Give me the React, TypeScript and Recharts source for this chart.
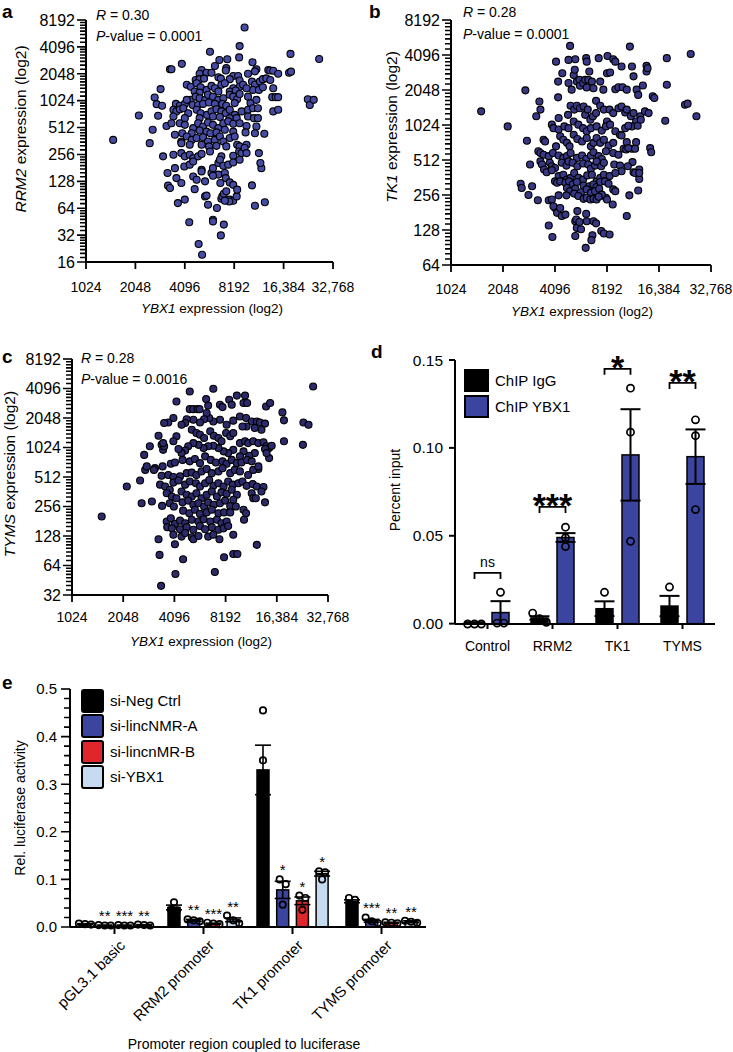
import React from 'react';
import { ScatterChart, Scatter, XAxis, YAxis, BarChart, Bar, ErrorBar } from 'recharts';

const FONT = '"Liberation Sans", Arial, Helvetica, sans-serif';

// ---- scatter panels (values are log2 of expression) ----
const ybx1TickValues = [10, 11, 12, 13, 14, 15];
const ybx1TickLabels = ['1024', '2048', '4096', '8192', '16,384', '32,768'];

const rrm2TickLabels = ['16', '32', '64', '128', '256', '512', '1024', '2048', '4096', '8192'];
const tk1TickLabels = ['64', '128', '256', '512', '1024', '2048', '4096', '8192'];
const tymsTickLabels = ['32', '64', '128', '256', '512', '1024', '2048', '4096', '8192'];

// [log2 YBX1, log2 RRM2]
const rrm2VsYbx1 = [
  [13.21,12.72],[13.11,12.03],[12.51,11.82],[13.10,11.61],[11.94,11.37],[12.70,11.51],[12.86,11.54],[13.37,11.43],[14.14,11.74],[14.72,11.55],[12.61,11.29],
  [11.70,11.17],[11.73,11.17],[12.34,11.14],[12.30,11.00],[12.44,11.04],[12.54,11.04],[12.84,11.21],[12.83,11.12],[12.98,10.92],[13.08,10.92],[13.28,11.00],[13.45,11.17],[13.42,11.09],[13.69,11.14],[13.73,11.12],[13.79,11.11],[13.89,11.00],[14.11,11.04],[14.15,11.08],[12.22,10.77],[12.30,10.80],[12.39,10.82],[12.68,10.87],[12.73,10.82],[12.91,10.80],[13.11,10.75],
  [12.04,10.59],[12.12,10.52],[12.24,10.65],[12.32,10.50],[12.44,10.40],[12.54,10.55],[12.61,10.46],[12.74,10.59],[12.81,10.65],[12.98,10.46],[13.11,10.52],[13.18,10.59],[13.36,10.71],[13.42,10.59],[13.52,10.71],[13.58,10.80],[13.65,10.83],[13.73,10.77],[13.38,10.40],[13.50,10.40],[13.58,10.50],[13.79,10.46],[11.51,10.43],[12.20,10.34],[12.30,10.30],[12.68,10.34],[12.91,10.34],[13.03,10.38],[13.25,10.46],
  [11.39,10.12],[11.43,9.87],[11.54,9.81],[11.82,9.88],[11.90,9.81],[12.00,9.88],[12.12,10.03],[12.22,10.15],[12.30,10.09],[12.41,10.03],[12.47,10.22],[12.57,10.15],[12.68,10.03],[12.78,10.09],[12.91,10.22],[12.98,10.15],[13.06,10.05],[13.11,10.25],[13.28,10.15],[13.33,9.91],[13.45,10.03],[13.77,10.13],[13.84,10.13],[13.89,10.13],[14.49,10.05],[14.53,9.84],[14.61,10.03],[12.04,10.03],[12.16,9.84],[12.27,9.84],[12.37,9.88],[12.49,9.93],[12.61,9.88],[12.76,9.88],[12.84,9.81],[13.01,9.91],
  [11.46,9.44],[11.07,9.45],[11.77,9.66],[11.83,9.60],[11.90,9.68],[11.97,9.72],[12.07,9.53],[12.24,9.66],[12.32,9.53],[12.45,9.47],[12.54,9.60],[12.64,9.68],[12.74,9.60],[12.83,9.53],[12.91,9.66],[13.01,9.47],[13.15,9.60],[13.28,9.66],[13.38,9.72],[13.48,9.72],[13.79,9.60],[13.89,9.66],[11.77,9.41],[12.00,9.35],[12.30,9.35],[12.57,9.41],[12.71,9.39],[12.91,9.35],[13.05,9.35],[13.28,9.41],[13.40,9.35],
  [11.35,8.92],[11.63,9.06],[11.73,9.16],[11.90,9.16],[12.00,9.10],[12.17,8.98],[12.27,9.16],[12.37,9.04],[12.47,9.19],[12.57,9.10],[12.68,8.98],[12.78,9.16],[12.88,9.23],[12.98,9.14],[13.11,9.16],[13.25,9.06],[13.45,9.04],[13.48,9.35],[11.95,8.79],[12.14,8.79],[12.30,8.89],[12.44,8.85],[12.52,8.79],[12.64,8.82],[12.81,8.92],[12.98,8.85],[13.23,8.82],[13.42,8.79],[13.61,8.77],
  [10.55,8.54],[11.29,8.42],[11.80,8.73],[11.93,8.48],[12.04,8.67],[12.14,8.54],[12.24,8.61],[12.37,8.64],[12.47,8.48],[12.61,8.54],[12.71,8.67],[12.78,8.48],[12.91,8.61],[13.01,8.67],[11.93,8.42],[12.10,8.36],[12.34,8.36],[12.49,8.30],[12.64,8.32],[12.84,8.30],[13.06,8.36],[13.11,8.30],[13.25,8.36],
  [11.56,7.93],[11.77,7.99],[11.93,8.05],[12.00,7.93],[12.10,7.99],[12.17,7.86],[12.27,7.93],[12.34,8.02],[12.51,8.11],[12.74,7.93],[12.98,7.95],[13.10,8.11],[13.15,8.05],[13.50,8.05],[13.21,8.24],[13.25,8.05],
  [11.65,7.31],[11.80,7.49],[11.99,7.55],[12.10,7.62],[12.17,7.74],[12.34,7.43],[12.54,7.31],[12.57,7.49],[12.68,7.68],[12.71,7.80],[12.78,7.58],[12.88,7.62],[12.98,7.70],[13.11,7.80],[13.55,7.49],[13.53,7.68],[12.68,7.25],[12.81,7.31],
  [11.66,6.84],[11.83,7.12],[11.93,6.94],[12.17,7.18],[12.24,7.06],[12.34,7.37],[12.41,7.00],[12.57,7.21],[12.72,6.94],[12.83,7.12],[12.91,6.96],[12.98,6.87],[11.70,6.75],[12.20,6.71],[13.36,6.85],
  [11.86,6.19],[12.00,6.32],[12.41,6.44],[12.44,6.47],[12.74,6.35],[12.76,6.44],[12.79,6.54],[12.84,6.63],[12.91,6.32],[12.98,6.28],[13.05,6.44],[13.06,6.69],[12.90,6.25],[12.81,6.28],[13.62,6.22],[13.42,6.09],[12.47,6.13],
  [12.65,6.01],[12.09,5.48],[12.57,5.57],[12.57,5.51],[12.79,5.39],[12.73,4.99],[12.28,4.67],[12.35,4.27],
];

// [log2 YBX1, log2 TK1]
const tk1VsYbx1 = [
  [10.58,10.39],[11.09,9.96],[11.43,10.99],[11.46,9.55],[11.52,8.87],[11.70,10.67],[11.72,10.44],[11.64,10.25],[11.34,8.32],[11.36,8.20],[11.56,8.25],[11.49,8.00],[11.67,7.85],[11.88,7.13],[11.95,6.80],[12.29,12.26],[13.44,12.24],[14.15,11.91],[14.61,12.03],[14.50,10.58],[14.55,10.61],[14.72,10.25],[14.12,10.12],[14.15,11.15],[13.76,11.69],[13.76,11.53],[13.38,7.40],[13.88,10.82],[13.91,10.77],[13.83,9.34],[13.85,9.22],[13.49,8.94],[13.51,8.65],[13.62,8.73],[13.62,8.46],[13.60,8.13],[13.43,7.99],[13.11,7.73],
  [12.02,11.81],[12.06,11.24],[12.06,10.79],[12.14,11.48],[12.26,11.86],[12.26,11.20],[12.32,11.01],[12.36,11.43],[12.38,11.58],[12.39,11.88],[12.42,11.24],[12.47,11.29],[12.48,11.12],[12.54,11.20],[12.58,11.29],[12.60,11.91],[12.61,11.81],[12.61,11.07],[12.64,11.29],[12.66,11.53],[12.71,11.24],[12.74,11.05],[12.79,10.69],[12.84,11.91],[12.87,11.24],[12.93,11.01],[13.00,11.48],[13.01,11.97],[13.06,11.50],[13.12,11.88],[13.16,11.81],[13.16,11.02],[13.22,11.08],[13.28,11.67],[13.30,11.08],[13.38,11.01],[13.48,11.67],[13.51,11.39],[13.57,11.01],[13.60,10.86],[13.69,11.13],[13.78,11.62],
  [12.07,10.20],[12.25,10.29],[12.30,10.55],[12.37,10.44],[12.42,10.55],[12.48,10.48],[12.55,10.53],[12.58,10.29],[12.63,10.44],[12.68,10.15],[12.73,10.25],[12.79,10.34],[12.87,10.55],[12.94,10.44],[13.00,10.10],[13.05,10.44],[13.12,10.34],[13.22,10.48],[13.28,10.53],[13.35,10.36],[13.38,10.44],[13.46,10.25],[13.51,10.34],[13.64,10.25],[13.73,10.39],[13.80,10.34],[13.56,10.10],[13.48,9.96],[13.59,9.98],[13.65,10.15],
  [11.94,10.01],[11.97,9.91],[12.07,9.87],[12.18,9.96],[12.26,9.91],[12.36,10.10],[12.45,10.01],[12.54,9.91],[12.61,9.82],[12.69,9.91],[12.80,9.96],[12.90,9.84],[12.98,9.96],[13.06,10.01],[13.16,9.82],[13.25,9.72],[13.35,9.91],[13.41,9.98],
  [11.78,9.58],[11.81,9.53],[12.02,9.39],[12.10,9.68],[12.16,9.58],[12.23,9.49],[12.28,9.39],[12.36,9.72],[12.43,9.60],[12.52,9.53],[12.61,9.63],[12.69,9.39],[12.74,9.49],[12.80,9.63],[12.87,9.49],[12.94,9.58],[13.03,9.41],[13.12,9.49],[13.28,9.70],[13.38,9.51],[13.48,9.32],[13.56,9.51],
  [11.68,9.25],[11.72,9.20],[11.78,9.15],[11.88,9.11],[11.96,9.20],[12.07,9.13],[12.16,9.06],[12.23,9.11],[12.30,9.20],[12.42,9.06],[12.52,9.13],[12.60,9.03],[12.69,9.13],[12.74,9.22],[12.84,9.11],[12.90,9.03],[12.98,9.25],[13.12,9.20],[13.22,9.15],[13.32,9.32],[13.37,9.30],[13.41,9.34],[13.54,9.32],
  [11.72,8.96],[11.75,8.87],[11.90,8.92],[11.94,8.82],[12.00,8.77],[12.13,8.92],[12.22,8.84],[12.26,8.96],[12.34,8.92],[12.43,8.82],[12.54,8.90],[12.64,8.87],[12.69,8.75],[12.77,8.84],[12.80,8.96],[12.89,8.82],[12.94,8.92],[13.14,8.87],[13.25,8.84],[13.28,8.68],[13.40,8.82],[13.54,8.63],[13.62,8.63],
  [11.79,8.73],[11.84,8.65],[11.94,8.71],[12.07,8.54],[12.16,8.58],[12.23,8.44],[12.30,8.49],[12.37,8.63],[12.45,8.49],[12.54,8.44],[12.62,8.56],[12.71,8.58],[12.80,8.39],[12.87,8.49],[12.94,8.58],[13.05,8.54],[13.16,8.63],
  [12.00,8.39],[12.04,8.35],[12.10,8.39],[12.20,8.35],[12.27,8.39],[12.34,8.30],[12.42,8.37],[12.55,8.27],[12.66,8.25],[12.74,8.30],[12.80,8.23],[12.87,8.37],[12.96,8.39],[13.03,8.32],[13.12,8.16],[13.16,8.11],
  [12.23,8.20],[12.29,8.11],[12.39,8.18],[12.50,8.08],[12.61,8.16],[12.69,8.06],[12.77,8.11],[12.85,8.18],[12.98,7.92],[12.90,8.01],
  [11.88,7.85],[11.94,7.87],[12.00,7.63],[12.07,7.99],[12.22,7.99],[12.37,8.04],[12.45,7.97],[12.55,7.89],[12.61,7.92],[12.68,7.87],[12.74,7.89],[12.80,7.87],[13.00,7.87],[12.84,7.95],
  [11.97,7.68],[12.04,7.49],[12.10,7.63],[12.13,7.40],[12.20,7.44],[12.43,7.54],[12.39,7.25],[12.41,7.30],[12.42,7.06],[12.47,7.23],[12.60,7.46],[12.61,7.25],[12.74,7.25],[12.79,7.19],[12.89,6.97],[12.94,6.90],[13.05,6.87],[12.50,7.02],[12.39,6.83],[12.72,6.85],[12.70,6.71],[12.59,6.49],
];

// [log2 YBX1, log2 TYMS]
const tymsVsYbx1 = [
  [14.71,12.07],[10.58,7.66],[11.07,8.68],[11.33,8.88],[11.36,8.11],[11.56,8.17],[11.43,9.24],[11.46,9.36],[11.62,9.30],[11.41,9.75],[11.52,10.04],[11.69,10.40],[11.75,10.09],[11.78,9.92],[11.80,10.04],[11.69,6.89],[11.71,6.36],[11.74,5.31],[12.02,5.71],[12.17,6.21],[12.01,6.72],[12.79,5.78],[12.97,6.28],[13.15,6.39],[13.23,6.39],[13.61,6.70],
  [12.30,11.90],[12.76,11.99],[12.04,11.56],[12.62,11.64],[12.66,11.42],[12.30,11.30],[12.37,11.30],[12.45,11.30],[12.49,11.30],[12.89,11.45],[13.07,11.62],[13.12,11.45],[12.94,11.37],[13.22,11.76],[13.38,11.76],[13.35,11.51],[13.42,11.51],[13.79,11.39],[13.87,11.51],[14.11,11.19],[14.14,10.92],[14.14,10.21],[14.51,10.09],[14.52,10.85],[14.62,10.77],
  [13.28,11.05],[13.40,11.00],[13.51,10.88],[13.61,10.88],[13.67,10.85],[13.77,10.81],[13.70,10.60],[13.57,10.66],[13.41,10.71],[13.33,10.71],[13.15,10.91],[13.02,10.77],[12.89,10.94],[12.76,10.88],[12.68,11.00],[12.63,11.17],[12.58,10.96],[12.50,10.85],[12.37,10.94],[12.24,10.96],[12.21,10.83],[12.14,10.77],[11.98,11.00],[11.88,10.85],[11.80,10.83],[12.04,10.38],[11.98,10.21],[11.78,10.15],
  [12.34,10.60],[12.43,10.49],[12.50,10.43],[12.58,10.32],[12.70,10.55],[12.77,10.40],[12.86,10.32],[12.92,10.21],[13.01,10.49],[13.09,10.38],[13.15,10.49],[13.28,10.15],[13.38,10.21],[13.44,10.15],[13.54,10.21],[13.64,10.15],[13.74,10.18],[13.80,10.04],[13.85,9.98],[13.90,10.06],[13.77,9.95],[13.57,9.81],[13.46,9.72],[13.35,9.87],[13.28,9.70],[13.15,9.92],[13.05,9.81],[12.96,9.87],[12.86,9.98],[12.76,10.06],[12.66,10.04],[12.57,9.98],[12.47,10.09],[12.37,10.15],[12.27,10.04],[12.21,9.90],[12.14,9.81],[12.08,9.95],
  [11.93,9.45],[12.01,9.49],[12.16,9.58],[12.30,9.53],[12.40,9.61],[12.50,9.47],[12.60,9.70],[12.71,9.58],[12.81,9.49],[12.94,9.53],[13.02,9.45],[13.12,9.58],[13.22,9.47],[13.31,9.49],[13.42,9.58],[13.51,9.53],[13.64,9.27],[13.85,9.64],[13.80,9.81],[11.60,9.24],[11.77,9.36],
  [11.75,9.04],[11.88,9.07],[11.98,9.00],[12.11,9.02],[12.24,9.13],[12.34,9.15],[12.43,9.07],[12.53,9.19],[12.63,9.27],[12.73,9.13],[12.86,9.19],[12.94,9.30],[13.09,9.13],[13.18,9.24],[13.28,9.19],[13.44,9.07],[13.54,9.24],[13.64,9.36],
  [11.72,8.74],[11.82,8.68],[11.91,8.57],[11.98,8.81],[12.08,8.88],[12.21,8.74],[12.30,8.85],[12.42,8.79],[12.50,8.68],[12.60,8.79],[12.68,8.90],[12.76,8.70],[12.86,8.79],[12.96,8.68],[13.05,8.85],[13.14,8.74],[13.25,8.79],[13.33,8.85],[13.41,8.70],[13.53,8.76],[13.61,8.68],[13.74,8.66],[13.70,8.51],[13.51,8.45],[13.54,8.28],
  [11.85,8.45],[11.95,8.34],[12.04,8.28],[12.14,8.51],[12.24,8.40],[12.34,8.34],[12.43,8.45],[12.53,8.28],[12.63,8.40],[12.73,8.51],[12.83,8.34],[12.92,8.48],[13.02,8.43],[13.12,8.57],[13.22,8.40],
  [11.76,8.02],[11.91,8.11],[11.99,8.00],[12.16,8.14],[12.27,8.20],[12.37,8.06],[12.47,8.11],[12.58,8.00],[12.66,8.14],[12.77,8.06],[12.89,8.11],[12.99,8.20],[13.09,8.02],[13.15,8.23],[13.35,7.89],[13.40,7.77],[13.77,8.14],[13.59,8.28],
  [12.17,7.86],[12.29,7.77],[12.40,7.89],[12.50,7.75],[12.63,7.80],[12.73,7.89],[12.86,7.77],[12.97,7.80],[13.09,7.80],[13.36,7.55],[13.20,8.00],
  [11.85,7.49],[11.93,7.60],[12.01,7.41],[12.11,7.52],[12.21,7.43],[12.34,7.55],[12.47,7.49],[12.57,7.57],[12.70,7.49],[12.83,7.55],[12.92,7.43],[13.02,7.49],
  [11.86,7.30],[11.95,7.26],[12.11,7.23],[12.24,7.30],[12.37,7.21],[12.50,7.34],[12.60,7.23],[12.73,7.30],[12.86,7.21],[12.96,7.26],[13.05,7.34],
  [11.98,7.04],[12.14,6.98],[12.21,7.10],[12.34,6.96],[12.37,6.89],[12.47,7.00],[12.66,6.98],[12.76,7.04],[12.88,6.89],[13.15,7.04],
];

// ---- panel d: ChIP ----
const chipTargets = ['Control', 'RRM2', 'TK1', 'TYMS'];
const chipIgG = [0.0005, 0.0032, 0.0085, 0.010];
const chipIgGErr = [0.0003, 0.001, 0.0042, 0.0058];
const chipYbx1 = [0.0063, 0.049, 0.096, 0.095];
const chipYbx1Err = [0.0065, 0.0025, 0.026, 0.0155];
const chipIgGReps = [[0, 0, 0], [0.0062, 0.003, 0.001], [0.018, 0.005, 0.002], [0.021, 0.006, 0.003]];
const chipYbx1Reps = [[0.018, 0.0005, 0.0005], [0.055, 0.049, 0.044], [0.134, 0.109, 0.047], [0.116, 0.107, 0.065]];
const chipSig = ['ns', '***', '*', '**'];
const chipBracketAt = [0.029, 0.0665, 0.145, 0.137];
const chipYTicks = [0, 0.05, 0.1, 0.15];

// ---- panel e: luciferase ----
const promoters = ['pGL3.1 basic', 'RRM2 promoter', 'TK1 promoter', 'TYMS promoter'];
const negCtrl = [0.006, 0.041, 0.33, 0.054];
const negCtrlErr = [0.001, 0.005, 0.052, 0.003];
const lincA = [0.003, 0.014, 0.078, 0.013];
const lincAErr = [0.001, 0.002, 0.018, 0.003];
const lincB = [0.003, 0.007, 0.055, 0.009];
const lincBErr = [0.001, 0.001, 0.008, 0.001];
const siYbx1 = [0.004, 0.015, 0.112, 0.011];
const siYbx1Err = [0.001, 0.004, 0.005, 0.002];
const negCtrlReps = [[0.007, 0.006, 0.005], [0.052, 0.036, 0.035], [0.455, 0.35, 0.19], [0.061, 0.057, 0.045]];
const lincAReps = [[0.004, 0.003, 0.003], [0.016, 0.014, 0.012], [0.1, 0.09, 0.047], [0.02, 0.012, 0.008]];
const lincBReps = [[0.004, 0.003, 0.003], [0.009, 0.007, 0.006], [0.066, 0.061, 0.036], [0.01, 0.009, 0.008]];
const siYbx1Reps = [[0.005, 0.004, 0.003], [0.024, 0.014, 0.008], [0.117, 0.115, 0.1], [0.013, 0.011, 0.009]];
const lincASig = ['**', '**', '*', '***'];
const lincBSig = ['***', '***', '*', '**'];
const siYbx1Sig = ['**', '**', '*', '**'];
const lucYTicks = [0, 0.1, 0.2, 0.3, 0.4, 0.5];
const lucMinorPerMajor = 4;

const BLUE = '#3b45a0';
const RED = '#e0262b';
const LIGHT = '#c7dbf0';

// minor tick marks are drawn by each major tick, up to the next major (axis step in px)
const makeYTick = (opts: { hi: number; pxPerStep: number; minor: () => number[]; label: (v: number) => string; fontSize: number; gap: number }) => (props: any) => {
  const { x, y, payload } = props;
  const v = payload.value as number;
  const minors = v < opts.hi - 1e-9 ? opts.minor() : [];
  const ax = Number(x);
  const ay = Number(y);
  return (
    <g>
      <path
        d={[`M${ax - 9},${ay}H${ax}`].concat(minors.map((f) => `M${ax - 6},${ay - f * opts.pxPerStep}H${ax}`)).join('')}
        stroke="#000"
        strokeWidth={1.6}
        fill="none"
      />
      <text x={ax - opts.gap} y={ay} dy="0.36em" textAnchor="end" fontSize={opts.fontSize} fontFamily={FONT} fill="#000">
        {opts.label(v)}
      </text>
    </g>
  );
};

const log2Minor = () => [1, 2, 3, 4, 5, 6, 7].map((k) => Math.log2(1 + k / 8));
const linMinor = (n: number) => () => Array.from({ length: n }, (_, i) => (i + 1) / (n + 1));

function range(lo: number, hi: number) {
  const out: number[] = [];
  for (let n = lo; n <= hi; n++) out.push(n);
  return out;
}

function ScatterPanel(props: any) {
  const { data, lo, hi, labels, fill, width, height, top, right, yAxisWidth, xAxisHeight, tickGap } = props;
  const pts = data.map((d: number[]) => ({ x: d[0], y: d[1] }));
  const plotH = height - top - xAxisHeight;
  const tick = makeYTick({
    hi, pxPerStep: plotH / (hi - lo), minor: log2Minor,
    label: (v) => labels[Math.round(v) - lo], fontSize: 16, gap: 11,
  });
  return (
    <ScatterChart width={width} height={height} margin={{ top, right, left: 0, bottom: 0 }}>
      <XAxis
        type="number"
        dataKey="x"
        domain={[10, 15]}
        ticks={ybx1TickValues}
        interval={0}
        tickFormatter={(v: number) => ybx1TickLabels[Math.round(v) - 10]}
        axisLine={{ stroke: '#000', strokeWidth: 2 }}
        tickLine={{ stroke: '#000', strokeWidth: 1.8 }}
        tickSize={7}
        tickMargin={tickGap}
        height={xAxisHeight}
        tick={{ fill: '#000', fontSize: 14, fontFamily: FONT }}
      />
      <YAxis
        type="number"
        dataKey="y"
        domain={[lo, hi]}
        ticks={range(lo, hi)}
        interval={0}
        width={yAxisWidth}
        tickSize={0}
        tickMargin={0}
        tickLine={false}
        axisLine={{ stroke: '#000', strokeWidth: 2 }}
        tick={tick}
      />
      <Scatter
        data={pts}
        isAnimationActive={false}
        shape={(p: any) => <circle cx={p.cx} cy={p.cy} r={3.5} fill={fill} stroke="#000" strokeWidth={1.1} />}
      />
    </ScatterChart>
  );
}

// horizontal offsets for replicate circles that would overlap
function spreadOffsets(ys: number[], minGap: number, step: number) {
  const offs = ys.map(() => 0);
  const order = ys.map((_, i) => i).sort((a, b) => ys[a] - ys[b]);
  let group: number[] = [];
  const flush = () => {
    group.forEach((idx, k) => {
      offs[idx] = (k - (group.length - 1) / 2) * step;
    });
    group = [];
  };
  order.forEach((idx) => {
    if (group.length && Math.abs(ys[idx] - ys[group[group.length - 1]]) > minGap) flush();
    group.push(idx);
  });
  flush();
  return offs;
}

function makeRepShape(o: any) {
  return (p: any) => {
    const { x, y, width, height, index } = p;
    const t = p.background && typeof p.background.y === 'number' ? p.background.y : o.top;
    const hh = p.background && typeof p.background.height === 'number' ? p.background.height : o.h;
    const toY = (v: number) => t + hh * (1 - v / o.yMax);
    const cx = x + width / 2;
    const reps: number[] = o.reps[index] || [];
    const ys = reps.map(toY);
    const offs = spreadOffsets(ys, o.r * 1.6, o.r * 1.9);
    let sig: any = null;
    if (o.sig && o.sig[index]) {
      const topVal = Math.max(...reps, o.means[index] + o.errs[index]);
      sig = (
        <text x={cx} y={toY(topVal) - 4} textAnchor="middle" fontSize={15} fontFamily={FONT} fill="#000" stroke="none">
          {o.sig[index]}
        </text>
      );
    }
    let bracket: any = null;
    if (o.bracket) {
      const by = toY(o.bracket.at[index]);
      const x2 = cx + o.bracket.span;
      const label = o.bracket.labels[index];
      const isNs = label === 'ns';
      bracket = (
        <g>
          <path d={`M${cx},${by + 6}V${by}H${x2}V${by + 6}`} fill="none" stroke="#000" strokeWidth={1.8} />
          <text
            x={(cx + x2) / 2}
            y={isNs ? by - 6 : by + 10}
            textAnchor="middle"
            fontSize={isNs ? 14 : 34}
            fontWeight={isNs ? 'normal' : 'bold'}
            fontFamily={FONT}
            fill="#000"
            stroke="none"
          >
            {label}
          </text>
        </g>
      );
    }
    return (
      <g>
        <rect x={x} y={y} width={width} height={Math.max(height, 0)} fill={o.fill} stroke="#000" strokeWidth={1.5} />
        {ys.map((cy, i) => (
          <circle key={i} cx={cx + offs[i]} cy={cy} r={o.r} fill="none" stroke="#000" strokeWidth={1.7} />
        ))}
        {sig}
        {bracket}
      </g>
    );
  };
}

function PromoterTick(props: any) {
  const { x, y, payload } = props;
  return (
    <g transform={`translate(${x + 4},${y + 5})`}>
      <text transform="rotate(-45)" textAnchor="end" dy="0.71em" fontSize={15} fontFamily={FONT} fill="#000">
        {payload.value}
      </text>
    </g>
  );
}

function ChipPanel() {
  const rows = chipTargets.map((t, i) => ({
    target: t,
    igg: chipIgG[i],
    iggErr: chipIgGErr[i],
    ybx1: chipYbx1[i],
    ybx1Err: chipYbx1Err[i],
  }));
  const top = 30;
  const h = 264;
  return (
    <BarChart width={366} height={330} data={rows} margin={{ top, right: 18, left: 0, bottom: 6 }} barSize={17} barGap={9}>
      <XAxis
        dataKey="target"
        height={30}
        interval={0}
        tickSize={5}
        tickMargin={12}
        axisLine={{ stroke: '#000', strokeWidth: 2 }}
        tickLine={{ stroke: '#000', strokeWidth: 2 }}
        tick={{ fill: '#000', fontSize: 14, fontFamily: FONT }}
      />
      <YAxis
        type="number"
        domain={[0, 0.15]}
        ticks={chipYTicks}
        interval={0}
        width={88}
        tickSize={6}
        tickMargin={6}
        tickFormatter={(v: number) => v.toFixed(2)}
        axisLine={{ stroke: '#000', strokeWidth: 2 }}
        tickLine={{ stroke: '#000', strokeWidth: 2 }}
        tick={{ fill: '#000', fontSize: 15.5, fontFamily: FONT }}
      />
      <Bar
        dataKey="igg"
        isAnimationActive={false}
        shape={makeRepShape({
          fill: '#000', reps: chipIgGReps, yMax: 0.15, top, h, r: 3.6,
          bracket: { at: chipBracketAt, labels: chipSig, span: 26 },
        })}
      >
        <ErrorBar dataKey="iggErr" width={10} strokeWidth={2} stroke="#000" direction="y" />
      </Bar>
      <Bar
        dataKey="ybx1"
        isAnimationActive={false}
        shape={makeRepShape({ fill: BLUE, reps: chipYbx1Reps, yMax: 0.15, top, h, r: 3.6 })}
      >
        <ErrorBar dataKey="ybx1Err" width={10} strokeWidth={2} stroke="#000" direction="y" />
      </Bar>
    </BarChart>
  );
}

function LucPanel() {
  const rows = promoters.map((p, i) => ({
    promoter: p,
    ctrl: negCtrl[i], ctrlErr: negCtrlErr[i],
    a: lincA[i], aErr: lincAErr[i],
    b: lincB[i], bErr: lincBErr[i],
    y: siYbx1[i], yErr: siYbx1Err[i],
  }));
  const top = 29;
  const h = 238;
  const common = { yMax: 0.5, top, h, r: 3.2 };
  const tick = makeYTick({
    hi: 0.5, pxPerStep: h / 5, minor: linMinor(lucMinorPerMajor),
    label: (v) => v.toFixed(1), fontSize: 15, gap: 13,
  });
  return (
    <BarChart width={440} height={392} data={rows} margin={{ top, right: 14, left: 0, bottom: 1 }} barSize={12} barGap={7.7}>
      <XAxis
        dataKey="promoter"
        height={124}
        interval={0}
        tickSize={7}
        tickMargin={0}
        axisLine={{ stroke: '#000', strokeWidth: 2 }}
        tickLine={{ stroke: '#000', strokeWidth: 2 }}
        tick={PromoterTick}
      />
      <YAxis
        type="number"
        domain={[0, 0.5]}
        ticks={lucYTicks}
        interval={0}
        width={70}
        tickSize={0}
        tickMargin={0}
        tickLine={false}
        axisLine={{ stroke: '#000', strokeWidth: 2 }}
        tick={tick}
      />
      <Bar dataKey="ctrl" isAnimationActive={false} shape={makeRepShape({ ...common, fill: '#000', reps: negCtrlReps })}>
        <ErrorBar dataKey="ctrlErr" width={8} strokeWidth={1.6} stroke="#000" direction="y" />
      </Bar>
      <Bar dataKey="a" isAnimationActive={false} shape={makeRepShape({ ...common, fill: BLUE, reps: lincAReps, sig: lincASig, means: lincA, errs: lincAErr })}>
        <ErrorBar dataKey="aErr" width={8} strokeWidth={1.6} stroke="#000" direction="y" />
      </Bar>
      <Bar dataKey="b" isAnimationActive={false} shape={makeRepShape({ ...common, fill: RED, reps: lincBReps, sig: lincBSig, means: lincB, errs: lincBErr })}>
        <ErrorBar dataKey="bErr" width={8} strokeWidth={1.6} stroke="#000" direction="y" />
      </Bar>
      <Bar dataKey="y" isAnimationActive={false} shape={makeRepShape({ ...common, fill: LIGHT, reps: siYbx1Reps, sig: siYbx1Sig, means: siYbx1, errs: siYbx1Err })}>
        <ErrorBar dataKey="yErr" width={8} strokeWidth={1.6} stroke="#000" direction="y" />
      </Bar>
    </BarChart>
  );
}

const abs = (left: number, top: number): React.CSSProperties => ({ position: 'absolute', left, top });

export default function App() {
  return (
    <div style={{ position: 'absolute', left: 0, top: 0, width: 733, height: 1052, background: '#fff', fontFamily: FONT }}>
      <div style={abs(0, 0)}>
        <ScatterPanel data={rrm2VsYbx1} lo={4} hi={13} labels={rrm2TickLabels} fill="#464ba4"
          width={360} height={300} top={20} right={27} yAxisWidth={86} xAxisHeight={38} tickGap={13} />
      </div>
      <div style={abs(367, 0)}>
        <ScatterPanel data={tk1VsYbx1} lo={6} hi={13} labels={tk1TickLabels} fill="#383885"
          width={366} height={300} top={20} right={22} yAxisWidth={84} xAxisHeight={35} tickGap={12} />
      </div>
      <div style={abs(0, 330)}>
        <ScatterPanel data={tymsVsYbx1} lo={5} hi={13} labels={tymsTickLabels} fill="#2c2a6a"
          width={360} height={300} top={29} right={32} yAxisWidth={72} xAxisHeight={35} tickGap={10} />
      </div>
      <div style={abs(367, 330)}>
        <ChipPanel />
      </div>
      <div style={abs(0, 660)}>
        <LucPanel />
      </div>
      <svg width={733} height={1052} style={{ position: 'absolute', left: 0, top: 0, pointerEvents: 'none' }} fontFamily={FONT} fill="#000">
        <g fontSize={19} fontWeight="bold">
          <text x={2} y={18}>a</text>
          <text x={369} y={18}>b</text>
          <text x={2} y={363}>c</text>
          <text x={371} y={358}>d</text>
          <text x={2} y={689}>e</text>
        </g>
        <g fontSize={14}>
          <text x={96} y={20}><tspan fontStyle="italic">R</tspan> = 0.30</text>
          <text x={96} y={41}><tspan fontStyle="italic">P</tspan>-value = 0.0001</text>
          <text x={463} y={17}><tspan fontStyle="italic">R</tspan> = 0.28</text>
          <text x={463} y={39}><tspan fontStyle="italic">P</tspan>-value = 0.0001</text>
          <text x={81} y={363}><tspan fontStyle="italic">R</tspan> = 0.28</text>
          <text x={81} y={384}><tspan fontStyle="italic">P</tspan>-value = 0.0016</text>
        </g>
        <g fontSize={13.5} textAnchor="middle">
          <text x={212} y={313}><tspan fontStyle="italic">YBX1</tspan> expression (log2)</text>
          <text x={582} y={316}><tspan fontStyle="italic">YBX1</tspan> expression (log2)</text>
          <text x={201} y={646}><tspan fontStyle="italic">YBX1</tspan> expression (log2)</text>
        </g>
        <g fontSize={15.5} textAnchor="middle">
          <text transform="translate(26,129) rotate(-90)"><tspan fontStyle="italic">RRM2</tspan> expression (log2)</text>
          <text transform="translate(397,127) rotate(-90)"><tspan fontStyle="italic">TK1</tspan> expression (log2)</text>
          <text transform="translate(15,474) rotate(-90)"><tspan fontStyle="italic">TYMS</tspan> expression (log2)</text>
        </g>
        <g fontSize={14} textAnchor="middle">
          <text transform="translate(400,490) rotate(-90)">Percent input</text>
          <text transform="translate(25,808) rotate(-90)">Rel. luciferase activity</text>
          <text x={244} y={1049}>Promoter region coupled to luciferase</text>
        </g>
        <g stroke="#000" strokeWidth={2}>
          <rect x={465} y={370} width={23} height={21} fill="#000" />
          <rect x={465} y={396} width={23} height={21} fill={BLUE} />
          <rect x={82} y={690} width={21} height={22} rx={2} fill="#000" />
          <rect x={82} y={715} width={21} height={22} rx={2} fill={BLUE} />
          <rect x={82} y={741} width={21} height={22} rx={2} fill={RED} />
          <rect x={82} y={766} width={21} height={22} rx={2} fill={LIGHT} />
        </g>
        <g fontSize={15}>
          <text x={495} y={386}>ChIP IgG</text>
          <text x={495} y={412}>ChIP YBX1</text>
          <text x={110} y={706}>si-Neg Ctrl</text>
          <text x={110} y={731}>si-lincNMR-A</text>
          <text x={110} y={757}>si-lincnMR-B</text>
          <text x={110} y={782}>si-YBX1</text>
        </g>
      </svg>
    </div>
  );
}
